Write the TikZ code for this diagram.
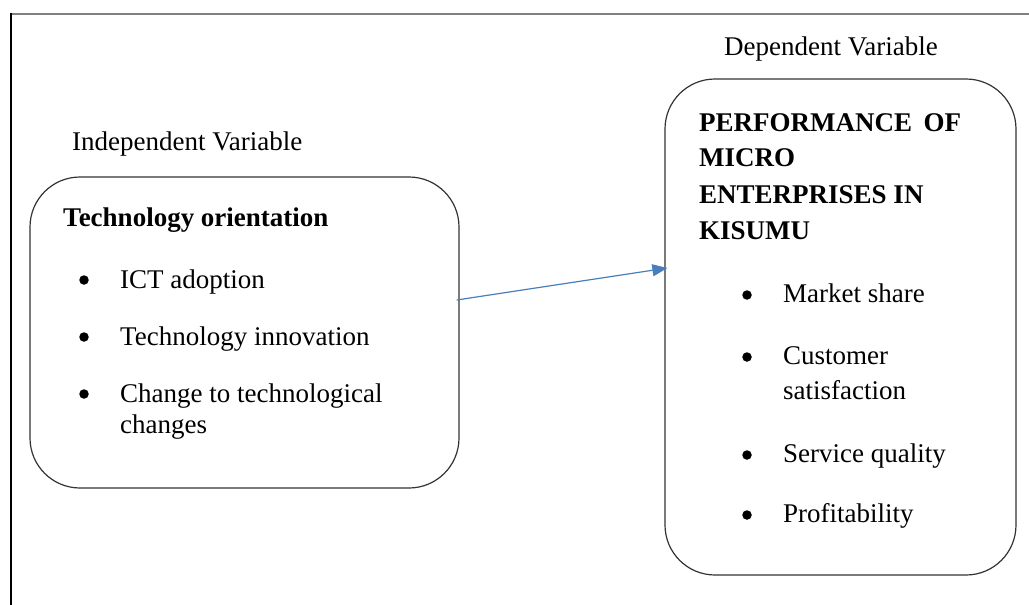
\documentclass[tikz,border=0pt]{standalone}
\usepackage{fontspec}
\setmainfont{Liberation Serif}
\usepackage{tikz}
\usetikzlibrary{arrows.meta,positioning,shapes}
\definecolor{arrowblue}{HTML}{4A7EBB}

\begin{document}
\begin{tikzpicture}[x=1pt, y=-1pt,
      every node/.style={inner sep=0pt, font=\fontsize{27}{32}\selectfont},
      varbox/.style={draw=black!80, line width=1.2pt, rounded corners=50pt},
      item/.style={anchor=base west},
      dot/.style={circle, fill=black, minimum size=9.5pt}]
      \useasboundingbox (0,0) rectangle (1029,605);
      \draw[gray, line width=2pt] (10.5,13.5) -- (1029,13.5);
      \draw[line width=1.5pt] (11,12.5) -- (11,605);
      \draw (244.5,332.5) node (indep) [varbox, minimum width=429pt, minimum height=311pt] {}
            (840.5,327) node (dep) [varbox, minimum width=351pt, minimum height=496pt] {};
      \draw (72,150) node (indeplbl) [item] {Independent Variable}
            (724,55) node (deplbl) [item] {Dependent Variable};
      \draw (63,226) node (techor) [item] {\bfseries Technology orientation}
            (84,280) node (d1) [dot] {}
            (120,288) node (ict) [item] {ICT adoption}
            (84,337) node (d2) [dot] {}
            (120,345) node (innov) [item] {Technology innovation}
            (84,394) node (d3) [dot] {}
            (120,402) node (chg) [item] {Change to technological}
            (120,433) node (chg2) [item] {changes};
      \draw (699,131) node (perf) [item] {\bfseries\makebox[262pt]{PERFORMANCE\hfill OF}}
            (699,166) node (micro) [item] {\bfseries MICRO}
            (699,203) node (ent) [item] {\bfseries ENTERPRISES IN}
            (699,239) node (kis) [item] {\bfseries KISUMU};
      \draw (747,295) node (e1) [dot] {}
            (783,302) node (mkt) [item] {Market share}
            (747,357) node (e2) [dot] {}
            (783,364) node (cust) [item] {Customer}
            (783,399) node (cust2) [item] {satisfaction}
            (747,455) node (e3) [dot] {}
            (783,462) node (serv) [item] {Service quality}
            (747,515) node (e4) [dot] {}
            (783,522) node (prof) [item] {Profitability};
      \draw[arrowblue, line width=1.2pt, -{Triangle[length=15pt,width=12pt]}]
            ([xshift=-3pt, yshift=32.5pt]indep.east) -- ([xshift=3pt, yshift=59pt]dep.west);
\end{tikzpicture}
\end{document}
